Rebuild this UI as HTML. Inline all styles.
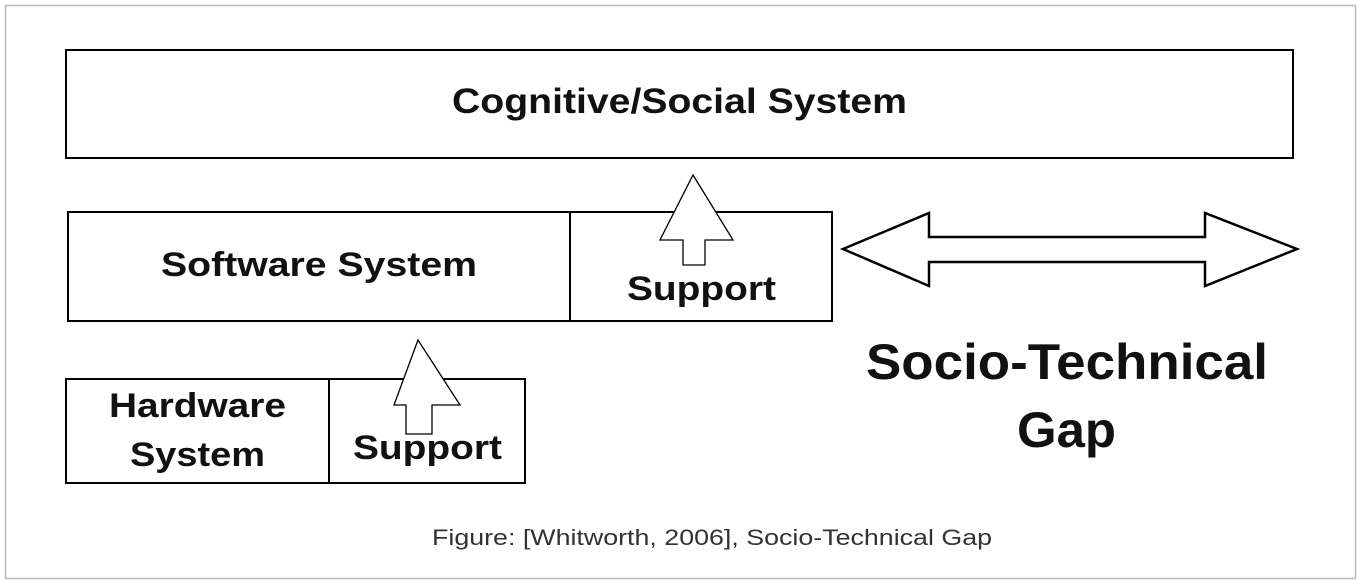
<!DOCTYPE html>
<html><head><meta charset="utf-8"><style>
body{margin:0;background:#fff;}
svg{display:block;font-family:"Liberation Sans",Arial,sans-serif;}
</style></head><body>
<svg width="1361" height="585" viewBox="0 0 1361 585" xmlns="http://www.w3.org/2000/svg">
<rect x="5.5" y="5.5" width="1350" height="573" fill="#fff" stroke="#bbb" stroke-width="1.5"/>
<g fill="none" stroke="#000" stroke-width="2">
<rect x="66" y="50" width="1227" height="108"/>
<rect x="68" y="212" width="764" height="109"/>
<line x1="570" y1="212" x2="570" y2="321"/>
<rect x="66" y="379" width="459" height="104"/>
<line x1="329" y1="379" x2="329" y2="483"/>
</g>
<g fill="#fff" stroke="#000" stroke-width="1.3">
<polygon points="693,175 733,240 705,240 705,265 683,265 683,240 660,240"/>
<polygon points="418,340 460,405 432,405 432,434 406,434 406,405 394,405"/>
</g>
<polygon points="843,249 929,213 929,237 1205,237 1205,213 1297,249 1205,286 1205,262 929,262 929,286" fill="#fff" stroke="#000" stroke-width="2.5"/>
<g font-weight="bold" fill="#111" lengthAdjust="spacingAndGlyphs">
<text x="452" y="113" font-size="35" textLength="455" lengthAdjust="spacingAndGlyphs">Cognitive/Social System</text>
<text x="161" y="276" font-size="34" textLength="316" lengthAdjust="spacingAndGlyphs">Software System</text>
<text x="627" y="300" font-size="34" textLength="149" lengthAdjust="spacingAndGlyphs">Support</text>
<text x="109" y="417" font-size="34" textLength="177" lengthAdjust="spacingAndGlyphs">Hardware</text>
<text x="130" y="466" font-size="34" textLength="135" lengthAdjust="spacingAndGlyphs">System</text>
<text x="353" y="459" font-size="34" textLength="149" lengthAdjust="spacingAndGlyphs">Support</text>
<text x="866" y="379" font-size="50" textLength="402" lengthAdjust="spacingAndGlyphs">Socio-Technical</text>
<text x="1017" y="447" font-size="50" textLength="99" lengthAdjust="spacingAndGlyphs">Gap</text>
</g>
<text x="432" y="545" font-size="22" fill="#333" textLength="560" lengthAdjust="spacingAndGlyphs">Figure: [Whitworth, 2006], Socio-Technical Gap</text>
</svg>
</body></html>
